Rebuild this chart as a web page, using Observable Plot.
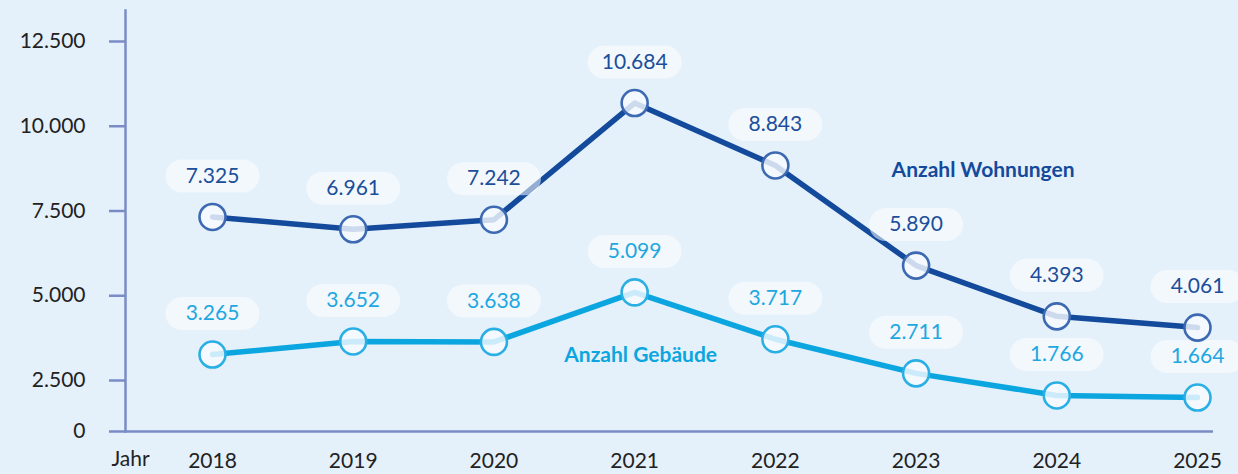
<!DOCTYPE html>
<html>
<head>
<meta charset="utf-8">
<script src="https://cdn.jsdelivr.net/npm/d3@7"></script>
<script src="https://cdn.jsdelivr.net/npm/@observablehq/plot@0.6"></script>
<style>
  html, body { margin: 0; padding: 0; background: #e4f0fa; }
  #chart { width: 1238px; height: 474px; }
</style>
</head>
<body>
<div id="chart"></div>
<script>
const years = [2018, 2019, 2020, 2021, 2022, 2023, 2024, 2025];
const wohnungen = [7325, 6961, 7242, 10684, 8843, 5890, 4393, 4061];
const gebaeude = [3265, 3652, 3638, 5099, 3717, 2711, 1766, 1664];
const yTicks = [0, 2500, 5000, 7500, 10000, 12500];
const seriesNames = ["Anzahl Wohnungen", "Anzahl Gebäude"];

const dark = "#134a9c", darkStroke = "#3c69b2", darkText = "#1b4e9b";
const light = "#0ba6e0", lightStroke = "#2aafe4", lightText = "#1ea7e1";
const axisColor = "#7a8cc6";

const de = d3.formatLocale({decimal: ",", thousands: ".", grouping: [3], currency: ["", " €"]});
const fmt = de.format(",d");

const table = [];
years.forEach((y, i) => {
  table.push({year: y, value: wohnungen[i], series: seriesNames[0]});
  table.push({year: y, value: gebaeude[i], series: seriesNames[1]});
});
const W = table.filter(d => d.series === seriesNames[0]);
const G = table.filter(d => d.series === seriesNames[1]);

const pill = {
  draw(ctx) {
    const w = 94, r = 16.5;
    ctx.moveTo(-w / 2 + r, -r);
    ctx.lineTo(w / 2 - r, -r);
    ctx.arc(w / 2 - r, 0, r, -Math.PI / 2, Math.PI / 2);
    ctx.lineTo(-w / 2 + r, r);
    ctx.arc(-w / 2 + r, 0, r, Math.PI / 2, 3 * Math.PI / 2);
    ctx.closePath();
  }
};

function seriesMarks(data, lineColor, ptStroke, txtColor) {
  return [
    Plot.line(data, {x: "year", y: "value", stroke: lineColor, strokeWidth: 5.5}),
    Plot.dot(data, {x: "year", y: "value", r: 13, fill: "#f6faff", fillOpacity: 0.82, stroke: ptStroke, strokeWidth: 2.6}),
    Plot.dot(data, {x: "year", y: "value", symbol: pill, r: 10, fill: "#ffffff", fillOpacity: 0.55, dy: -41}),
    Plot.text(data, {x: "year", y: "value", text: d => fmt(d.value), dy: -41, fill: txtColor, fontSize: 21})
  ];
}

const chart = Plot.plot({
  width: 1238,
  height: 474,
  marginLeft: 125,
  marginRight: 25,
  marginTop: 10,
  marginBottom: 43,
  style: {background: "#e4f0fa", fontFamily: "Lato, 'Open Sans', sans-serif"},
  x: {type: "linear", domain: [2018, 2025], range: [212, 1197]},
  y: {type: "linear", domain: [0, 2500, 12500], range: [431, 380, 41]},
  marks: [
    Plot.frame({anchor: "left", stroke: axisColor, strokeWidth: 2.5}),
    Plot.ruleY([0], {stroke: axisColor, strokeWidth: 2.5}),
    Plot.axisY({ticks: yTicks, tickFormat: fmt, tickSize: 16, tickPadding: 24, stroke: axisColor, strokeWidth: 2.5, fill: "#222", fontSize: 21, label: null}),
    Plot.axisX({ticks: years, tickFormat: d => String(d), tickSize: 0, tickPadding: 22, fill: "#222", fontSize: 21, label: null}),
    Plot.text(["Jahr"], {frameAnchor: "bottom-left", dx: 5, dy: 34, fill: "#222", fontSize: 21, textAnchor: "middle"}),
    ...seriesMarks(G, light, lightStroke, lightText),
    ...seriesMarks(W, dark, darkStroke, darkText),
    Plot.text(W.filter(d => d.year === 2023), {x: "year", y: "value", text: () => seriesNames[0], dx: 67, dy: -95, fill: dark, fontSize: 21, fontWeight: 700}),
    Plot.text(G.filter(d => d.year === 2021), {x: "year", y: "value", text: () => seriesNames[1], dx: 6, dy: 63, fill: light, fontSize: 21, fontWeight: 700})
  ]
});
document.getElementById("chart").appendChild(chart);
</script>
</body>
</html>
